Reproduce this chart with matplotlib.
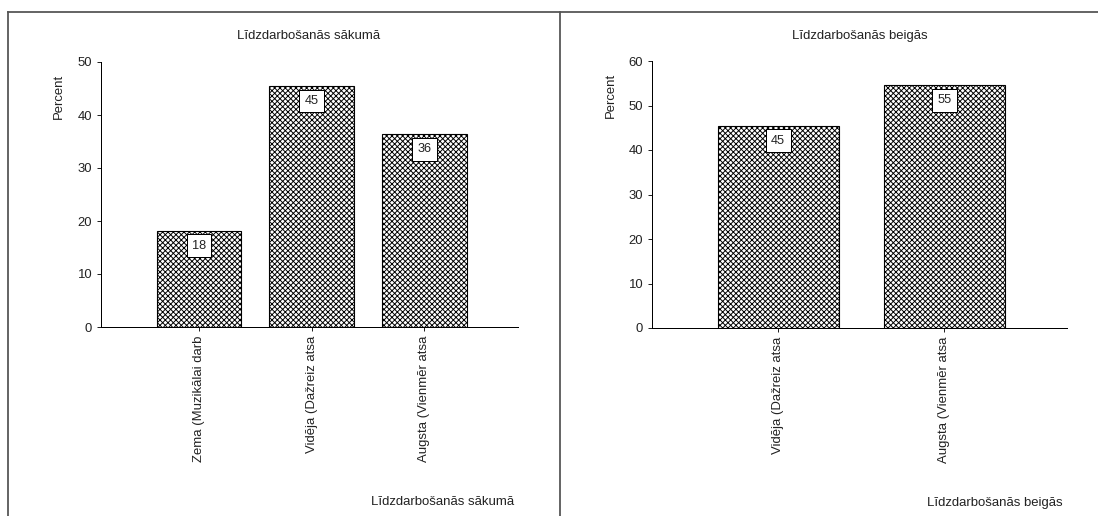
import matplotlib
matplotlib.use("Agg")
import matplotlib.pyplot as plt
from matplotlib.lines import Line2D

# --- DATA ---
title_start = "Līdzdarbošanās sākumā"
title_end = "Līdzdarbošanās beigās"
cats_start = ["Zema (Muzikālai darb", "Vidēja (Dažreiz atsa", "Augsta (Vienmēr atsa"]
vals_start = [18.18, 45.45, 36.36]
cats_end = ["Vidēja (Dažreiz atsa", "Augsta (Vienmēr atsa"]
vals_end = [45.45, 54.55]
yticks_start = [0, 10, 20, 30, 40, 50]
yticks_end = [0, 10, 20, 30, 40, 50, 60]

# --- STYLE ---
plt.rcParams['font.family'] = ['Liberation Sans', 'DejaVu Sans']
plt.rcParams['font.size'] = 11.8
plt.rcParams['hatch.linewidth'] = 0.85
plt.rcParams['text.color'] = '#222222'

W, H, DPI = 1098, 516, 80
fig = plt.figure(figsize=(W / DPI, H / DPI), dpi=DPI)


def px_rect(x0, x1, ytop, ybot):
    return [x0 / W, 1 - ybot / H, (x1 - x0) / W, (ybot - ytop) / H]


def draw_panel(rect, cats, vals, yticks, xlim, width):
    ax = fig.add_axes(rect)
    x = list(range(len(cats)))
    ax.bar(x, vals, width=width, color='white', edgecolor='black',
           hatch='xxxxx', linewidth=1.0)
    for xi, v in zip(x, vals):
        ax.annotate(f"{v:.0f}", (xi, v), xytext=(0, -15), textcoords='offset pixels',
                    ha='center', va='center', fontsize=11.5,
                    bbox=dict(boxstyle='square,pad=0.42', fc='white', ec='black', lw=0.9))
    ax.set_xlim(*xlim)
    ax.set_ylim(yticks[0], yticks[-1])
    ax.set_yticks(yticks)
    ax.set_xticks(x)
    ax.set_xticklabels(cats, rotation=90)
    for s in ['top', 'right']:
        ax.spines[s].set_visible(False)
    ax.spines['left'].set_linewidth(0.9)
    ax.spines['bottom'].set_linewidth(0.9)
    ax.tick_params(direction='out', length=4, width=0.9, pad=4, colors='#222222')
    return ax


draw_panel(px_rect(101, 518, 62, 327), cats_start, vals_start, yticks_start,
           (-0.87, 2.83), 0.75)
draw_panel(px_rect(652, 1067, 61, 328), cats_end, vals_end, yticks_end,
           (-0.76, 1.74), 0.73)

# titles, axis labels
fig.text(309 / W, 1 - 36 / H, title_start, ha='center', va='center')
fig.text(860 / W, 1 - 36 / H, title_end, ha='center', va='center')
fig.text(59 / W, 1 - 96 / H, "Percent", rotation=90, ha='center', va='center')
fig.text(611 / W, 1 - 95 / H, "Percent", rotation=90, ha='center', va='center')
fig.text(514 / W, 1 - 502 / H, title_start, ha='right', va='center')
fig.text(1063 / W, 1 - 503 / H, title_end, ha='right', va='center')

# panel frames
frame = dict(color='#555555', lw=1.6, transform=fig.transFigure)
fig.add_artist(Line2D([8 / W, 1], [1 - 12 / H, 1 - 12 / H], **frame))
fig.add_artist(Line2D([8 / W, 8 / W], [0, 1 - 12 / H], **frame))
fig.add_artist(Line2D([560 / W, 560 / W], [0, 1 - 12 / H], **frame))

fig.savefig("out.png", dpi=DPI)
